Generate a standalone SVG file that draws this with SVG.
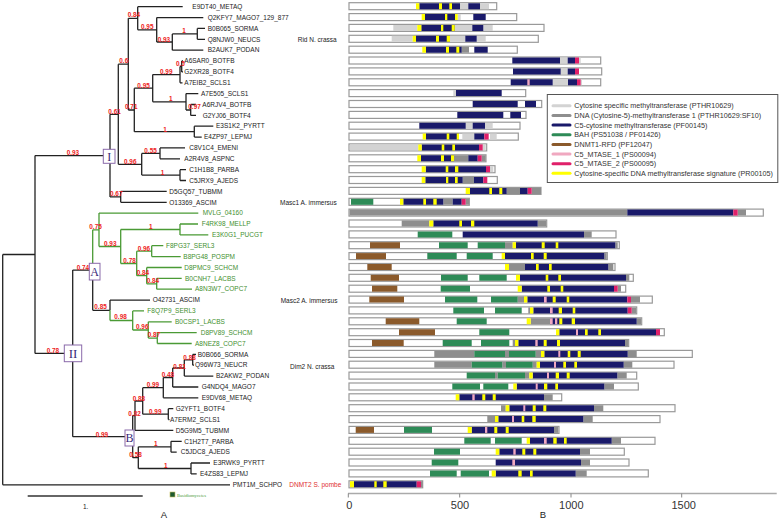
<svg xmlns="http://www.w3.org/2000/svg" width="779" height="519" viewBox="0 0 779 519">
<style>
.t{font-family:"Liberation Sans",Arial,sans-serif;font-size:6.5px;fill:#222}
.tg{fill:#3f8f2f}
.bs{font-family:"Liberation Sans",Arial,sans-serif;font-size:6.4px;font-weight:bold;fill:#ee2222}
.br{fill:none;stroke:#222;stroke-width:1.3}
.brg{fill:none;stroke:#4a9a35;stroke-width:1.3}
.box{fill:#fff;stroke:#8a6aaa;stroke-width:1}
.bl{font-family:"Liberation Serif","Times New Roman",serif;fill:#3a2a78;text-anchor:middle}
.ol{fill:#fff;stroke:#999;stroke-width:1.2}
.d{fill:none;stroke-width:6}
.ls{fill:none;stroke-width:3;stroke-linecap:round}
.lg{stroke:#d3d3d3}.dg{stroke:#8e8e8e}.n{stroke:#1a1a6a}.g{stroke:#2e8b57}.b{stroke:#8b5a2b}.p{stroke:#f0a8c0}.m{stroke:#e0206a}.y{stroke:#ffff00}
.lt{font-family:"Liberation Sans",Arial,sans-serif;font-size:7.2px;fill:#333}
.ax{font-family:"Liberation Sans",Arial,sans-serif;font-size:11px;fill:#333;text-anchor:middle}
</style>

<g id="connectors">
<path class="br" d="M2.7 254.5V484.8M2.7 254.5H35M2.7 484.8H230
M35 155.6V353.4M35 155.6H110M35 353.4H72.7
M110 114.3V196.9M110 114.3H118.3M110 196.9H120.7
M118.3 64.2V164.3M118.3 64.2H128.3M118.3 164.3H141.7
M128.3 18.3V110M128.3 18.3H137.7M128.3 110H134.3
M137.7 6.7V29.8M137.7 6.7H182.7M137.7 29.8H156.7
M156.7 17.6V42M156.7 17.6H203.3M156.7 42H172.3
M172.3 33.9V50.2M172.3 33.9H197.3M172.3 50.2H203.3
M197.3 28.4V39.3M197.3 28.4H205M197.3 39.3H205
M134.3 88.2V131.7M134.3 88.2H152.7M134.3 131.7H194.3
M152.7 74.6V101.8M152.7 74.6H180M152.7 101.8H186
M180 66.5V82.8M180 66.5H181.7M180 82.8H182.5
M181.7 61V71.9M181.7 61H183M181.7 71.9H183
M186 93.6V110M186 93.6H198.3M186 110H190.7
M190.7 104.5V115.4M190.7 104.5H196M190.7 115.4H196
M194.3 126.2V137.1M194.3 126.2H213.3M194.3 137.1H201.7
M141.7 153.4V175.1M141.7 153.4H160M141.7 175.1H180
M160 147.9V158.8M160 147.9H185M160 158.8H180
M180 169.7V180.5M180 169.7H186M180 180.5H186
M120.7 191.4V202.3M120.7 191.4H166.7M120.7 202.3H166.7
M72.7 270.1V436.7M72.7 270.1H92.7M72.7 436.7H132.7
M92.7 270.1V310.3M92.7 310.3H110
M110 300.1V310.3M110 300.1H150
M132.7 415.7V457.7M132.7 415.7H135M132.7 457.7H138.3
M135 401V430.4M135 401H142.7M135 430.4H173.3
M142.7 387.7V414.2M142.7 387.7H163.3M142.7 414.2H168.3
M163.3 377.5V397.8M163.3 377.5H172.7M163.3 397.8H198.3
M172.7 368V387M172.7 368H184.3M172.7 387H198.3
M184.3 359.8V376.1M184.3 359.8H192.7M184.3 376.1H213.3
M192.7 354.4V365.2M192.7 354.4H196M192.7 365.2H194
M168.3 408.7V419.6M168.3 408.7H173.3M168.3 419.6H169.5
M138.3 446.8V468.5M138.3 446.8H171M138.3 468.5H191
M171 441.3V452.2M171 441.3H181.7M171 452.2H176.7
M191 463V473.9M191 463H210M191 473.9H196.7"/>
<path class="brg" d="M92.7 229.8V270.1M92.7 229.8H99
M99 213.1V246.5M99 213.1H198.3M99 246.5H120.7
M120.7 229.5V263.5M120.7 229.5H180M120.7 263.5H136.7
M180 224V234.9M180 224H198M180 234.9H208.3
M136.7 251.2V275.7M136.7 251.2H151.7M136.7 275.7H146.7
M151.7 245.7V256.6M151.7 245.7H163.3M151.7 256.6H180.7
M146.7 267.5V283.8M146.7 267.5H181.7M146.7 283.8H156.7
M156.7 278.3V289.2M156.7 278.3H181.7M156.7 289.2H192
M110 310.3V320.5M110 320.5H132.7
M132.7 310.9V330M132.7 310.9H144M132.7 330H148.3
M148.3 321.8V338.1M148.3 321.8H171.7M148.3 338.1H157.3
M157.3 332.7V343.5M157.3 332.7H196.7M157.3 343.5H191.7"/>
</g>

<g id="clade-boxes">
<g id="clade-I"><rect class="box" x="103.3" y="149.3" width="11.7" height="14"/><text class="bl" x="109.2" y="160.5" font-size="12">I</text></g>
<g id="clade-II"><rect class="box" x="64.3" y="345" width="17.4" height="16.7"/><text class="bl" x="73" y="358" font-size="13">II</text></g>
<g id="clade-A"><rect class="box" x="89.3" y="263.3" width="10.7" height="16.7"/><text class="bl" x="94.7" y="276" font-size="12">A</text></g>
<g id="clade-B"><rect class="box" x="125" y="430" width="9" height="16"/><text class="bl" x="129.5" y="442.3" font-size="12">B</text></g>
</g>

<g id="bootstrap">
<text class="bs" x="127.7" y="17.2">0.84</text>
<text class="bs" x="141" y="28.9">0.95</text>
<text class="bs" x="182.3" y="33.2">1</text>
<text class="bs" x="157.7" y="41.5">0.93</text>
<text class="bs" x="176" y="65.5">0.5</text>
<text class="bs" x="160" y="73.9">0.99</text>
<text class="bs" x="137.3" y="87.9">0.95</text>
<text class="bs" x="169" y="101.2">1</text>
<text class="bs" x="188.3" y="108.9">0.97</text>
<text class="bs" x="119.3" y="63.2">0.6</text>
<text class="bs" x="125" y="108.9">0.71</text>
<text class="bs" x="108.3" y="113.9">0.61</text>
<text class="bs" x="163.3" y="131.5">1</text>
<text class="bs" x="66.7" y="154.9">0.93</text>
<text class="bs" x="144.3" y="152.9">0.55</text>
<text class="bs" x="124" y="163.9">0.96</text>
<text class="bs" x="160.7" y="174.5">1</text>
<text class="bs" x="110" y="196.2">0.67</text>
<text class="bs" x="89.3" y="228.9">0.75</text>
<text class="bs" x="149" y="228.9">1</text>
<text class="bs" x="104" y="246.2">0.93</text>
<text class="bs" x="137.7" y="251.2">0.96</text>
<text class="bs" x="123.3" y="262.5">0.78</text>
<text class="bs" x="76.7" y="269.9">0.74</text>
<text class="bs" x="136.7" y="274.5">0.84</text>
<text class="bs" x="146.7" y="283.2">0.84</text>
<text class="bs" x="94.3" y="308.9">0.85</text>
<text class="bs" x="114.3" y="318.9">0.98</text>
<text class="bs" x="136" y="328.9">0.96</text>
<text class="bs" x="147.7" y="337.2">0.87</text>
<text class="bs" x="46.7" y="353.2">0.78</text>
<text class="bs" x="183.3" y="359.9">0.88</text>
<text class="bs" x="173.3" y="368.9">0.81</text>
<text class="bs" x="161.7" y="377.2">0.48</text>
<text class="bs" x="146.7" y="387.2">0.99</text>
<text class="bs" x="132.7" y="400.5">0.88</text>
<text class="bs" x="149" y="413.9">0.99</text>
<text class="bs" x="128.3" y="415.5">0.82</text>
<text class="bs" x="95.7" y="436.5">0.99</text>
<text class="bs" x="154" y="446.2">1</text>
<text class="bs" x="129.3" y="457.2">0.58</text>
<text class="bs" x="164" y="467.9">1</text>
</g>

<g id="annotations">
<text class="t" x="297.7" y="42">Rid N. crassa</text>
<text class="t" x="280" y="205">Masc1 A. immersus</text>
<text class="t" x="280.7" y="303.3">Masc2 A. immersus</text>
<text class="t" x="290" y="368.6">Dim2 N. crassa</text>
<text class="t" x="289.3" y="487.2" style="fill:#e03030">DNMT2 S. pombe</text>
</g>

<g id="scale">
<path d="M27.7 496H142.7" stroke="#333" stroke-width="1.5"/>
<text class="t" x="83" y="509">1.</text>
<rect x="170" y="492" width="5" height="5" fill="#1f5a2f" stroke="#c8c060" stroke-width="0.6"/>
<text x="177" y="496.5" font-family="Liberation Serif,serif" font-size="4.6" fill="#4a9a3a">Basidiomycetes</text>
<text x="164" y="517.7" font-family="Liberation Sans,Arial,sans-serif" font-size="9.5" fill="#222" text-anchor="middle">A</text>
</g>

<g id="proteins">
<g id="p0" transform="translate(0,6.2)"><rect class="ol" x="349" y="-3.5" width="147.7" height="7"/><path class="d lg" d="M460 0h8.3M480 0h9"/><path class="d n" d="M419.3 0h40.7M468.3 0h11.7"/><path class="d y" d="M416 0h3.3M439 0h3M449.3 0h2.7"/></g>
<text class="t" x="192.3" y="8.9">E9DT40_METAQ</text>
<g id="p1" transform="translate(0,17.1)"><rect class="ol" x="349" y="-3.5" width="167.7" height="7"/><path class="d lg" d="M457.7 0h3"/><path class="d n" d="M425 0h30M473.3 0h12.4"/><path class="d y" d="M421.7 0h3.3M445 0h2.3M455 0h2.7"/></g>
<text class="t" x="207.7" y="19.8">Q2KFY7_MAGO7_129_877</text>
<g id="p2" transform="translate(0,27.9)"><rect class="ol" x="349" y="-3.5" width="195" height="7"/><path class="d lg" d="M393.3 0h24M454.7 0h17.6M483.3 0h9.4"/><path class="d n" d="M421.3 0h33.4M472.3 0h11"/><path class="d y" d="M417.3 0h4M441 0h2.3M451.7 0h3"/></g>
<text class="t" x="207.7" y="30.6">B0B065_SORMA</text>
<g id="p3" transform="translate(0,38.8)"><rect class="ol" x="349" y="-3.5" width="189.3" height="7"/><path class="d lg" d="M391.7 0h21M450 0h15.3M476.7 0h9"/><path class="d n" d="M416 0h34M465.3 0h11.4"/><path class="d y" d="M412.7 0h3.3M436 0h3M446.7 0h3.3"/></g>
<text class="t" x="207.7" y="41.5">Q8NJW0_NEUCS</text>
<g id="p4" transform="translate(0,49.7)"><rect class="ol" x="349" y="-3.5" width="168.3" height="7"/><path class="d dg" d="M461.7 0h7.3"/><path class="d n" d="M426 0h35.7M474.3 0h13.4"/><path class="d y" d="M422.3 0h3.7M446 0h3M456.3 0h3"/></g>
<text class="t" x="207.7" y="52.4">B2AUK7_PODAN</text>
<g id="p5" transform="translate(0,60.5)"><rect class="ol" x="349" y="-3.5" width="251.7" height="7"/><path class="d lg" d="M560 0h7.7M579 0h1.7"/><path class="d n" d="M512.3 0h47.7M567.7 0h7.3"/><path class="d m" d="M575 0h4"/></g>
<text class="t" x="184.3" y="63.2">A6SAR0_BOTFB</text>
<g id="p6" transform="translate(0,71.4)"><rect class="ol" x="349" y="-3.5" width="252.7" height="7"/><path class="d lg" d="M560.7 0h7"/><path class="d n" d="M513 0h47.7M567.7 0h7.3"/><path class="d m" d="M575 0h4"/></g>
<text class="t" x="184.3" y="74.1">G2XR28_BOTF4</text>
<g id="p7" transform="translate(0,82.3)"><rect class="ol" x="349" y="-3.5" width="251.7" height="7"/><path class="d lg" d="M552.7 0h15.3M580.7 0h1.3"/><path class="d n" d="M510.7 0h42M568 0h9"/><path class="d p" d="M527.3 0h2.4"/><path class="d m" d="M577 0h3.7"/></g>
<text class="t" x="184.3" y="85">A7EIB2_SCLS1</text>
<g id="p8" transform="translate(0,93.1)"><rect class="ol" x="349" y="-3.5" width="176.7" height="7"/><path class="d lg" d="M453.3 0h2.7"/><path class="d n" d="M456 0h45.7"/></g>
<text class="t" x="201" y="95.8">A7E505_SCLS1</text>
<g id="p9" transform="translate(0,104)"><rect class="ol" x="349" y="-3.5" width="192.7" height="7"/><path class="d n" d="M472.7 0h45M525 0h11"/></g>
<text class="t" x="202.3" y="106.7">A6RJV4_BOTFB</text>
<g id="p10" transform="translate(0,114.9)"><rect class="ol" x="349" y="-3.5" width="177" height="7"/><path class="d n" d="M457.3 0h46M510.3 0h10.7"/></g>
<text class="t" x="202.7" y="117.6">G2YJ06_BOTF4</text>
<g id="p11" transform="translate(0,125.7)"><rect class="ol" x="349" y="-3.5" width="171" height="7"/><path class="d lg" d="M465.7 0h7M485 0h7.7"/><path class="d n" d="M419.3 0h46.4M472.7 0h12.3"/></g>
<text class="t" x="216" y="128.4">E3S1K2_PYRTT</text>
<g id="p12" transform="translate(0,136.6)"><rect class="ol" x="349" y="-3.5" width="169.3" height="7"/><path class="d lg" d="M462.3 0h12M490 0h6.7"/><path class="d n" d="M426 0h33M474.3 0h10"/><path class="d y" d="M422.7 0h3.3M446.7 0h2.6M456.7 0h2.3"/><path class="d m" d="M484.3 0h4.4"/></g>
<text class="t" x="204" y="139.3">E4ZP97_LEPMJ</text>
<g id="p13" transform="translate(0,147.4)"><rect class="ol" x="349" y="-3.5" width="137.7" height="7"/><path class="d lg" d="M350 0h68.3M482.7 0h3"/><path class="d n" d="M421.7 0h57.3"/><path class="d y" d="M418.3 0h3.4M441.7 0h2.6M452.3 0h2.7"/><path class="d m" d="M479 0h3.7"/></g>
<text class="t" x="189.3" y="150.1">C8V1C4_EMENI</text>
<g id="p14" transform="translate(0,158.3)"><rect class="ol" x="349" y="-3.5" width="137" height="7"/><path class="d dg" d="M454 0h14.3M481.7 0h4"/><path class="d n" d="M421 0h33M468.3 0h9.4"/><path class="d y" d="M417.3 0h3.7M441 0h3M451 0h3"/><path class="d m" d="M477.7 0h4"/></g>
<text class="t" x="184.3" y="161">A2R4V8_ASPNC</text>
<g id="p15" transform="translate(0,169.2)"><rect class="ol" x="349" y="-3.5" width="146" height="7"/><path class="d lg" d="M490 0h3.3"/><path class="d n" d="M425.7 0h60.3"/><path class="d y" d="M421.7 0h4M445.7 0h2.6M455 0h3.3"/><path class="d m" d="M486 0h4"/></g>
<text class="t" x="189.3" y="171.9">C1H1B8_PARBA</text>
<g id="p16" transform="translate(0,180)"><rect class="ol" x="349" y="-3.5" width="148.3" height="7"/><path class="d dg" d="M462.7 0h11.3"/><path class="d n" d="M425.3 0h37.4M474 0h9.3"/><path class="d y" d="M421.7 0h3.6M446 0h2.3M455 0h2.7"/><path class="d m" d="M483.3 0h4"/></g>
<text class="t" x="189.3" y="182.7">C5JRX9_AJEDS</text>
<g id="p17" transform="translate(0,190.9)"><rect class="ol" x="349" y="-3.5" width="192" height="7"/><path class="d dg" d="M506.7 0h13.3M531.7 0h9.3"/><path class="d n" d="M470 0h36.7M520 0h7.7"/><path class="d y" d="M465.7 0h4.3M489.3 0h2.7M499.3 0h3"/><path class="d m" d="M527.7 0h4"/></g>
<text class="t" x="169.3" y="193.6">D5GQ57_TUBMM</text>
<g id="p18" transform="translate(0,201.8)"><rect class="ol" x="349" y="-3.5" width="120.3" height="7"/><path class="d dg" d="M443.3 0h9.4M465.7 0h3.6"/><path class="d g" d="M351 0h22.3"/><path class="d n" d="M403.3 0h40M452.7 0h9"/><path class="d y" d="M400 0h3.3M423.3 0h2.7M433.3 0h3.4"/><path class="d m" d="M461.7 0h4"/></g>
<text class="t" x="169.3" y="204.5">O13369_ASCIM</text>
<g id="p19" transform="translate(0,212.6)"><rect class="ol" x="349" y="-3.5" width="414.3" height="7"/><path class="d dg" d="M349.6 0h277.7M737.7 0h8.3"/><path class="d n" d="M627.3 0h106"/><path class="d m" d="M733.3 0h4.4"/></g>
<text class="t tg" x="202.7" y="215.3">MVLG_04160</text>
<g id="p20" transform="translate(0,223.5)"><rect class="ol" x="349" y="-3.5" width="197.7" height="7"/><path class="d dg" d="M401.7 0h27.6M537.7 0h8.4"/><path class="d n" d="M433.3 0h104.4"/><path class="d y" d="M429.3 0h4M459.3 0h2.7M471 0h3.3"/></g>
<text class="t tg" x="201.7" y="226.2">F4RK98_MELLP</text>
<g id="p21" transform="translate(0,234.4)"><rect class="ol" x="349" y="-3.5" width="267" height="7"/><path class="d dg" d="M584 0h7.7"/><path class="d g" d="M417.7 0h34.6"/><path class="d n" d="M462.7 0h121.3"/></g>
<text class="t tg" x="212" y="237.1">E3K0G1_PUCGT</text>
<g id="p22" transform="translate(0,245.2)"><rect class="ol" x="349" y="-3.5" width="270.3" height="7"/><path class="d dg" d="M505 0h7.7M615.3 0h2.4"/><path class="d g" d="M439 0h28.7M477.7 0h27.3"/><path class="d b" d="M370 0h30"/><path class="d n" d="M516 0h99.3"/><path class="d y" d="M512.7 0h3.3M541.7 0h3M555.7 0h2.6"/></g>
<text class="t tg" x="166" y="247.9">F8PG37_SERL3</text>
<g id="p23" transform="translate(0,256.1)"><rect class="ol" x="349" y="-3.5" width="258.3" height="7"/><path class="d dg" d="M604.3 0h2.4"/><path class="d g" d="M427.3 0h29.4M466.7 0h26"/><path class="d b" d="M356 0h30"/><path class="d n" d="M505 0h99.3"/><path class="d y" d="M501.7 0h3.3M531 0h2.7M543.7 0h3"/></g>
<text class="t tg" x="183.3" y="258.8">B8PG48_POSPM</text>
<g id="p24" transform="translate(0,267)"><rect class="ol" x="349" y="-3.5" width="266" height="7"/><path class="d dg" d="M509 0h16M608.3 0h5"/><path class="d b" d="M367.3 0h24.4"/><path class="d n" d="M525 0h83.3"/><path class="d y" d="M505 0h4M536 0h2.7M549 0h2.7"/></g>
<text class="t tg" x="184.3" y="269.7">D8PMC9_SCHCM</text>
<g id="p25" transform="translate(0,277.8)"><rect class="ol" x="349" y="-3.5" width="284.3" height="7"/><path class="d dg" d="M626 0h3.3"/><path class="d g" d="M441 0h26.7M479.3 0h27.4"/><path class="d b" d="M370.7 0h28.3"/><path class="d n" d="M520 0h106"/><path class="d y" d="M516 0h4M545.7 0h2.6M558.3 0h2.7"/></g>
<text class="t tg" x="185" y="280.5">B0CNH7_LACBS</text>
<g id="p26" transform="translate(0,288.7)"><rect class="ol" x="349" y="-3.5" width="276.7" height="7"/><path class="d dg" d="M617.7 0h3.3"/><path class="d g" d="M440.7 0h29.3"/><path class="d b" d="M372 0h25.3"/><path class="d n" d="M521.7 0h92.3"/><path class="d y" d="M517.7 0h4M547.3 0h2.7M560.7 0h2.6"/><path class="d m" d="M614 0h3.7"/></g>
<text class="t tg" x="195" y="291.4">A8N3W7_COPC7</text>
<g id="p27" transform="translate(0,299.6)"><rect class="ol" x="349" y="-3.5" width="303.3" height="7"/><path class="d dg" d="M517.7 0h6.3M631 0h9"/><path class="d g" d="M445 0h32.3M491 0h26.7"/><path class="d b" d="M369.3 0h34.7"/><path class="d n" d="M527.3 0h100"/><path class="d p" d="M544 0h2.7"/><path class="d y" d="M524 0h3.3M552.7 0h3M566.7 0h2.6"/><path class="d m" d="M627.3 0h3.7"/></g>
<text class="t" x="152.7" y="302.3">O42731_ASCIM</text>
<g id="p28" transform="translate(0,310.4)"><rect class="ol" x="349" y="-3.5" width="287.7" height="7"/><path class="d dg" d="M528.3 0h1.7M631.7 0h4.3"/><path class="d g" d="M453.3 0h30.7M495 0h26.7"/><path class="d n" d="M533.3 0h94.4"/><path class="d p" d="M550 0h2.7"/><path class="d y" d="M530 0h3.3M558.7 0h3.3M572.7 0h2.6"/><path class="d m" d="M627.7 0h4"/></g>
<text class="t tg" x="147.3" y="313.1">F8Q7P9_SERL3</text>
<g id="p29" transform="translate(0,321.3)"><rect class="ol" x="349" y="-3.5" width="292.7" height="7"/><path class="d dg" d="M530.7 0h19.3M636.7 0h4.3"/><path class="d g" d="M456.7 0h30"/><path class="d b" d="M385.7 0h33.6"/><path class="d n" d="M550 0h86.7"/><path class="d p" d="M550 0h2.7M555 0h2.3"/><path class="d y" d="M526.7 0h4M559.3 0h3M571.7 0h3.3"/></g>
<text class="t tg" x="175" y="324">B0CSP1_LACBS</text>
<g id="p30" transform="translate(0,332.2)"><rect class="ol" x="349" y="-3.5" width="315.3" height="7"/><path class="d g" d="M479.3 0h30"/><path class="d b" d="M399 0h36"/><path class="d n" d="M559.3 0h96.7"/><path class="d p" d="M576 0h2"/><path class="d y" d="M556 0h3.3M585 0h2.7M598.3 0h2.7"/><path class="d m" d="M656 0h4"/></g>
<text class="t tg" x="200.7" y="334.9">D8PV89_SCHCM</text>
<g id="p31" transform="translate(0,343)"><rect class="ol" x="349" y="-3.5" width="279.7" height="7"/><path class="d dg" d="M512.7 0h2.3M625 0h3.3"/><path class="d g" d="M442.7 0h29M481 0h28.3"/><path class="d b" d="M372 0h31.7"/><path class="d n" d="M518.3 0h106.7"/><path class="d p" d="M535.3 0h2.4"/><path class="d y" d="M515 0h3.3M543.7 0h3M557 0h3"/></g>
<text class="t tg" x="195" y="345.7">A8NEZ8_COPC7</text>
<g id="p32" transform="translate(0,353.9)"><rect class="ol" x="349" y="-3.5" width="343.3" height="7"/><path class="d dg" d="M434.3 0h40M505 0h4M535.7 0h5.3M627.7 0h9"/><path class="d g" d="M474.3 0h30.7M509 0h26.7"/><path class="d n" d="M544.3 0h83.4"/><path class="d p" d="M558.3 0h2"/><path class="d y" d="M541 0h3.3M567.7 0h2.6M577.7 0h3"/></g>
<text class="t" x="197.7" y="356.6">B0B066_SORMA</text>
<g id="p33" transform="translate(0,364.7)"><rect class="ol" x="349" y="-3.5" width="325" height="7"/><path class="d dg" d="M434.3 0h37.4M502.3 0h3.7M532.7 0h4M623.7 0h8.6"/><path class="d g" d="M471.7 0h30.6M506 0h26.7"/><path class="d n" d="M540 0h83.7"/><path class="d p" d="M554 0h2"/><path class="d y" d="M536.7 0h3.3M563.3 0h2.7M574.3 0h2.7"/></g>
<text class="t" x="195" y="367.4">Q96W73_NEUCR</text>
<g id="p34" transform="translate(0,375.6)"><rect class="ol" x="349" y="-3.5" width="287.7" height="7"/><path class="d dg" d="M495 0h2.7M525 0h4.3M617.3 0h9.4"/><path class="d g" d="M466.7 0h28.3M497.7 0h27.3"/><path class="d n" d="M532.7 0h84.6"/><path class="d p" d="M547 0h2"/><path class="d y" d="M529.3 0h3.4M555.7 0h3.3M566.7 0h3"/></g>
<text class="t" x="216" y="378.3">B2AKW2_PODAN</text>
<g id="p35" transform="translate(0,386.5)"><rect class="ol" x="349" y="-3.5" width="289.3" height="7"/><path class="d dg" d="M604.3 0h9.7"/><path class="d g" d="M452.3 0h27.7M483.3 0h25"/><path class="d n" d="M516.7 0h87.6"/><path class="d p" d="M535.7 0h2"/><path class="d y" d="M513.3 0h3.4M544 0h3.3M555.3 0h2.7"/></g>
<text class="t" x="201.7" y="389.2">G4NDQ4_MAGO7</text>
<g id="p36" transform="translate(0,397.3)"><rect class="ol" x="349" y="-3.5" width="212.7" height="7"/><path class="d dg" d="M544 0h8.7"/><path class="d n" d="M459.3 0h84.7"/><path class="d p" d="M472.3 0h2.4"/><path class="d y" d="M455.7 0h3.6M482.3 0h3M492.7 0h3"/></g>
<text class="t" x="201.7" y="400">E9DV68_METAQ</text>
<g id="p37" transform="translate(0,408.2)"><rect class="ol" x="349" y="-3.5" width="326" height="7"/><path class="d dg" d="M501 0h4.7M594 0h9.3"/><path class="d n" d="M509.3 0h84.7"/><path class="d p" d="M523.3 0h2"/><path class="d y" d="M505.7 0h3.6M532.7 0h3M543.3 0h3"/></g>
<text class="t" x="175.7" y="410.9">G2YFT1_BOTF4</text>
<g id="p38" transform="translate(0,419.1)"><rect class="ol" x="349" y="-3.5" width="311" height="7"/><path class="d dg" d="M487.3 0h7.7M583.3 0h9.4"/><path class="d n" d="M498.3 0h85"/><path class="d p" d="M512 0h2"/><path class="d y" d="M495 0h3.3M521.7 0h2.6M532.3 0h3.4"/></g>
<text class="t" x="170" y="421.8">A7ERM2_SCLS1</text>
<g id="p39" transform="translate(0,429.9)"><rect class="ol" x="349" y="-3.5" width="210" height="7"/><path class="d dg" d="M554 0h4.3"/><path class="d g" d="M404 0h28"/><path class="d b" d="M355.7 0h18.3"/><path class="d n" d="M471.7 0h82.3"/><path class="d p" d="M485 0h2.3"/><path class="d y" d="M467.7 0h4M494.3 0h3M505.7 0h3"/></g>
<text class="t" x="175.7" y="432.6">D5G9M5_TUBMM</text>
<g id="p40" transform="translate(0,440.8)"><rect class="ol" x="349" y="-3.5" width="306" height="7"/><path class="d dg" d="M611.7 0h9.3"/><path class="d g" d="M464.3 0h26.4M495 0h26.7"/><path class="d n" d="M530 0h81.7"/><path class="d p" d="M544 0h2.7"/><path class="d y" d="M526.7 0h3.3M553.3 0h3.4M564 0h2.7"/></g>
<text class="t" x="184.3" y="443.5">C1H2T7_PARBA</text>
<g id="p41" transform="translate(0,451.7)"><rect class="ol" x="349" y="-3.5" width="275.3" height="7"/><path class="d dg" d="M580 0h10"/><path class="d g" d="M434 0h26"/><path class="d n" d="M499.3 0h80.7"/><path class="d p" d="M513.3 0h2.4"/><path class="d y" d="M495.7 0h3.6M522.3 0h3M533.3 0h3"/></g>
<text class="t" x="180.7" y="454.4">C5JDC8_AJEDS</text>
<g id="p42" transform="translate(0,462.5)"><rect class="ol" x="349" y="-3.5" width="280" height="7"/><path class="d dg" d="M581 0h9"/><path class="d g" d="M431.7 0h26.6"/><path class="d n" d="M495.7 0h85.3"/><path class="d p" d="M512.3 0h2.7"/></g>
<text class="t" x="213.3" y="465.2">E3RWK9_PYRTT</text>
<g id="p43" transform="translate(0,473.4)"><rect class="ol" x="349" y="-3.5" width="299.3" height="7"/><path class="d dg" d="M575.7 0h11"/><path class="d g" d="M430 0h26.7M460.7 0h28.3"/><path class="d n" d="M495.7 0h80"/><path class="d y" d="M491.7 0h4M518.3 0h3.4M530 0h2.7"/></g>
<text class="t" x="200" y="476.1">E4ZS83_LEPMJ</text>
<g id="p44" transform="translate(0,484.3)"><rect class="ol" x="349" y="-3.5" width="73.7" height="7"/><path class="d dg" d="M421 0h1.7"/><path class="d n" d="M354 0h62.7"/><path class="d y" d="M350 0h4M374.3 0h2.4M383.3 0h3.4"/><path class="d m" d="M416.7 0h4.3"/></g>
<text class="t" x="232.7" y="487">PMT1M_SCHPO</text>
</g>

<g id="axis">
<path d="M348 493.5H776.7" stroke="#aaa" stroke-width="1.5"/>
<path d="M348.3 493.5V497.5M459.7 493.5V497.5M571 493.5V497.5M681.7 493.5V497.5" stroke="#888" stroke-width="1"/>
<text class="ax" x="349.3" y="508.5">0</text>
<text class="ax" x="460" y="508.5">500</text>
<text class="ax" x="571.3" y="508.5">1000</text>
<text class="ax" x="683.7" y="508.5">1500</text>
<text x="543" y="517.5" font-family="Liberation Sans,Arial,sans-serif" font-size="9.5" fill="#222" text-anchor="middle">B</text>
</g>

<g id="legend">
<rect x="547.3" y="94.5" width="230.5" height="88" fill="#fff" stroke="#555" stroke-width="1"/>
<path class="ls lg" d="M553 105.7H570"/><text class="lt" x="574.3" y="108.2">Cytosine specific methyltransferase (PTHR10629)</text>
<path class="ls dg" d="M553 115.4H570"/><text class="lt" x="574.3" y="117.9">DNA (Cytosine-5)-methyltransferase 1 (PTHR10629:SF10)</text>
<path class="ls n" d="M553 125H570"/><text class="lt" x="574.3" y="127.5">C5-cytosine methyltransferase (PF00145)</text>
<path class="ls g" d="M553 134.7H570"/><text class="lt" x="574.3" y="137.2">BAH (PS51038 / PF01426)</text>
<path class="ls b" d="M553 144.4H570"/><text class="lt" x="574.3" y="146.9">DNMT1-RFD (PF12047)</text>
<path class="ls p" d="M553 154H570"/><text class="lt" x="574.3" y="156.5">C5_MTASE_1 (PS00094)</text>
<path class="ls m" d="M553 163.7H570"/><text class="lt" x="574.3" y="166.2">C5_MTASE_2 (PS00095)</text>
<path class="ls y" d="M553 173.3H570"/><text class="lt" x="574.3" y="175.8">Cytosine-specific DNA methyltransferase signature (PR00105)</text>
</g>
</svg>
